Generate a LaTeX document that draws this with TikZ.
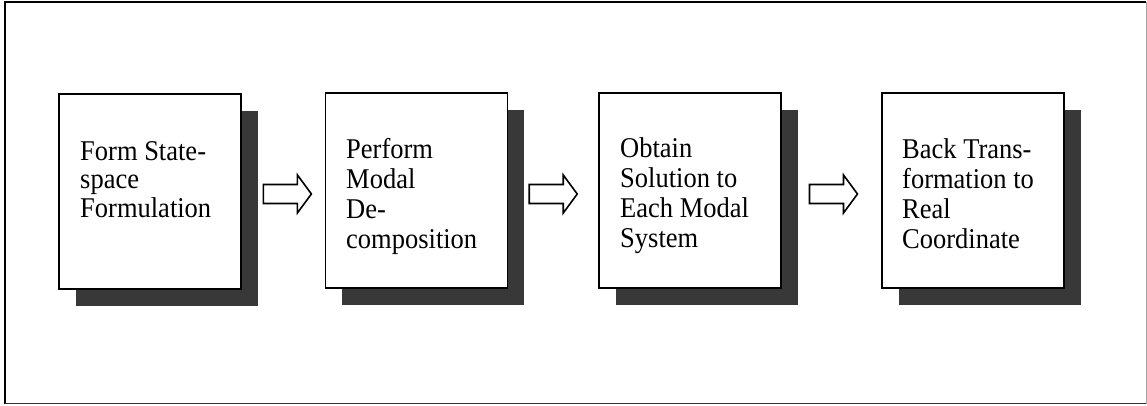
\documentclass[tikz,border=0pt]{standalone}
\usepackage{fontspec}
\usepackage{graphicx}
\setmainfont{Liberation Serif}
\usetikzlibrary{shadows,calc}

% slightly tall serif lettering
\newcommand{\steplabel}[1]{\scalebox{1}[1.08]{#1}}

\tikzset{
  stepbox/.style={draw=black, fill=white, line width=1.7pt,
    minimum width=182pt, minimum height=195pt, inner sep=0pt,
    drop shadow={shadow xshift=16.5pt, shadow yshift=-16.5pt,
      fill=black!78, opacity=1}},
  steptext/.style={anchor=base west, inner sep=0pt,
    font=\fontsize{26.5}{30}\selectfont},
  blockarrow/.pic={
    \draw[line width=1.6pt, line join=miter, fill=white]
      (-24,-9.5) -- (10,-9.5) -- (10,-19) -- (24,0) -- (10,19)
      -- (10,9.5) -- (-24,9.5) -- cycle;
  }
}

\begin{document}
\begin{tikzpicture}[x=1pt,y=-1pt]
  \useasboundingbox (0,0) rectangle (1147,405);

  % outer frame
  \draw[line width=1.7pt] (1146,2) -- (5,2) -- (5,404);
  \draw[line width=1.3pt, black!80] (5,403.6) -- (1146,403.6);
  \draw[line width=0.8pt, black!35] (1146,2) -- (1146,404);

  % process steps
  \node[stepbox] (b1) at (150,191.5) {};
  \node[stepbox] (b2) at (416.5,190.5) {};
  \node[stepbox] (b3) at (690,190.5) {};
  \node[stepbox] (b4) at (973,190.5) {};

  % step texts, one node per line
  \foreach \s [count=\i] in {Form State-, space, Formulation}
    \node[steptext] (t1-\i) at (80,{160+28.5*(\i-1)}) {\steplabel{\s}};
  \foreach \s [count=\i] in {Perform, Modal, De-, composition}
    \node[steptext] (t2-\i) at (346,{158+30*(\i-1)}) {\steplabel{\s}};
  \foreach \s [count=\i] in {Obtain, Solution to, Each Modal, System}
    \node[steptext] (t3-\i) at (620,{157.5+30*(\i-1)}) {\steplabel{\s}};
  \foreach \s [count=\i] in {Back Trans-, formation to, Real, Coordinate}
    \node[steptext] (t4-\i) at (902,{158+30*(\i-1)}) {\steplabel{\s}};

  % block arrows between the steps
  \coordinate (a1) at ($(b1.east)!0.55!(b2.west)+(0,3)$);
  \coordinate (a2) at ($(b2.east)!0.5!(b3.west)+(0,3.5)$);
  \coordinate (a3) at ($(b3.east)!0.52!(b4.west)+(0,3.5)$);
  \pic at (a1) {blockarrow};
  \pic at (a2) {blockarrow};
  \pic at (a3) {blockarrow};
\end{tikzpicture}
\end{document}
